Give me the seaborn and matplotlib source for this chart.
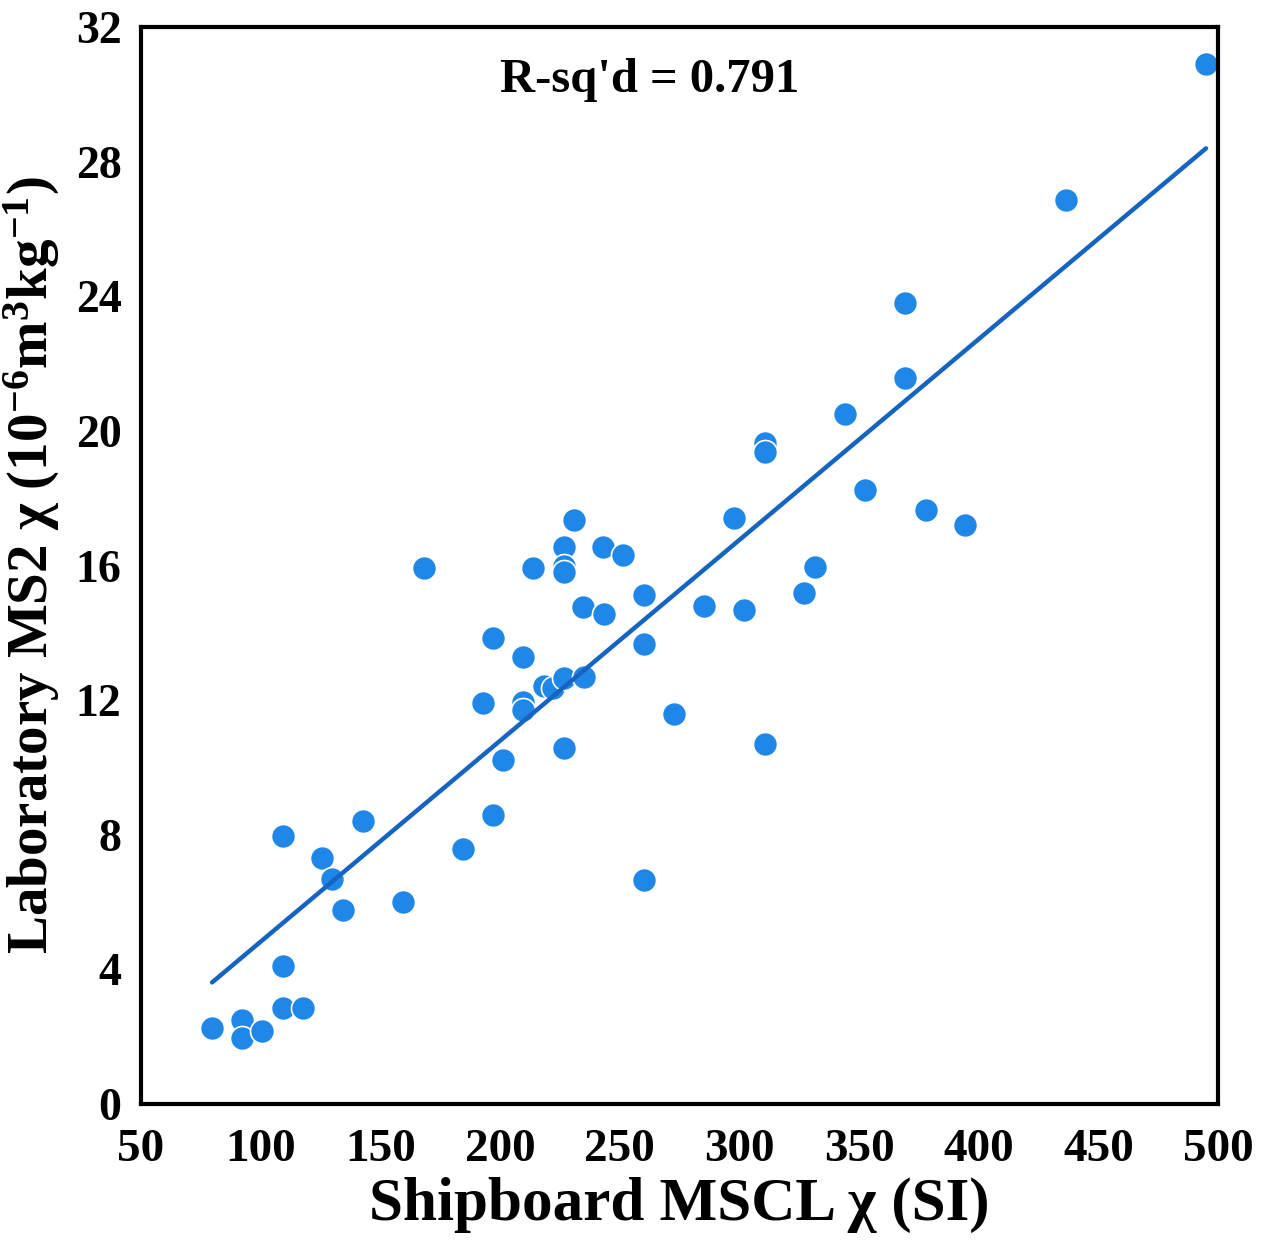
import matplotlib
matplotlib.use("Agg")
import matplotlib.pyplot as plt
import seaborn as sns
import pandas as pd

# ---- data ----
mscl_chi = [495, 436.5, 369.3, 369.3, 344.2, 310.8, 310.8, 352.5, 378, 394.3,
            297.8, 231, 243, 251.4, 226.8, 226.8, 226.8, 213.8, 168.3, 260.2,
            331.7, 327, 234.7, 243.5, 285.3, 302, 197.1, 260.2, 209.6, 192.9,
            209.6, 209.6, 218.4, 222.2, 226.8, 235.1, 272.7, 226.8, 310.8, 201.3,
            197.1, 142.8, 109.3, 184.6, 125.6, 129.8, 260.2, 134.4, 159.5, 109.3,
            109.3, 117.7, 79.7, 92.2, 92.2, 100.6]
ms2_chi = [30.9, 26.86, 23.8, 21.57, 20.5, 19.64, 19.37, 18.24, 17.65, 17.2,
           17.41, 17.35, 16.55, 16.31, 16.55, 16.0, 15.8, 15.92, 15.92, 15.12,
           15.95, 15.18, 14.77, 14.56, 14.8, 14.68, 13.84, 13.67, 13.28, 11.91,
           11.94, 11.7, 12.42, 12.36, 12.66, 12.69, 11.59, 10.58, 10.7, 10.22,
           8.59, 8.41, 7.96, 7.58, 7.31, 6.68, 6.65, 5.76, 6.0, 4.1,
           2.85, 2.85, 2.26, 2.5, 1.96, 2.17]
x_ticks = [50, 100, 150, 200, 250, 300, 350, 400, 450, 500]
y_ticks = [0, 4, 8, 12, 16, 20, 24, 28, 32]
r_sq_text = "R-sq'd = 0.791"
x_label = "Shipboard MSCL χ (SI)"
y_label = r"Laboratory MS2 χ (10$^{-6}$m$^{3}$kg$^{-1}$)"

df = pd.DataFrame({"x": mscl_chi, "y": ms2_chi})

sns.set_theme(style="white")
plt.rcParams["font.family"] = ["Liberation Serif", "DejaVu Serif"]
plt.rcParams["font.weight"] = "bold"
plt.rcParams["mathtext.fontset"] = "custom"
plt.rcParams["mathtext.rm"] = "Liberation Serif:bold"
plt.rcParams["mathtext.it"] = "Liberation Serif:italic:bold"
plt.rcParams["mathtext.bf"] = "Liberation Serif:bold"
plt.rcParams["mathtext.default"] = "rm"

fig = plt.figure(figsize=(12.66, 12.43), dpi=100)
ax = fig.add_axes([0.1114, 0.1118, 0.8507, 0.8665])

point_color = "#1f87e8"
line_color = "#1565c0"

sns.regplot(data=df, x="x", y="y", ax=ax, ci=None, truncate=True,
            scatter_kws=dict(s=300, color=point_color, edgecolors="white",
                             linewidths=1.2, alpha=1),
            line_kws=dict(color=line_color, linewidth=3.2, solid_capstyle="round"))

ax.set_xlim(50, 500)
ax.set_ylim(0, 32)
ax.set_xticks(x_ticks)
ax.set_yticks(y_ticks)
ax.set_xticklabels([str(t) for t in x_ticks], fontsize=34, fontweight="bold")
ax.set_yticklabels([str(t) for t in y_ticks], fontsize=33, fontweight="bold")
ax.tick_params(axis="both", direction="in", length=20, width=3, color="black",
               pad=14, labelcolor="black")
ax.tick_params(axis="x", pad=18)
for sp in ax.spines.values():
    sp.set_visible(True)
    sp.set_color("black")
    sp.set_linewidth(3)

ax.set_xlabel(x_label, fontsize=44, fontweight="bold", labelpad=4, color="black")
ax.set_ylabel(y_label, fontsize=41, fontweight="bold", labelpad=10, color="black")

ax.text(0.4726, 0.951, r_sq_text, transform=ax.transAxes, ha="center", va="center",
        fontsize=35, fontweight="bold", color="black")

fig.savefig("out.png", dpi=100)
